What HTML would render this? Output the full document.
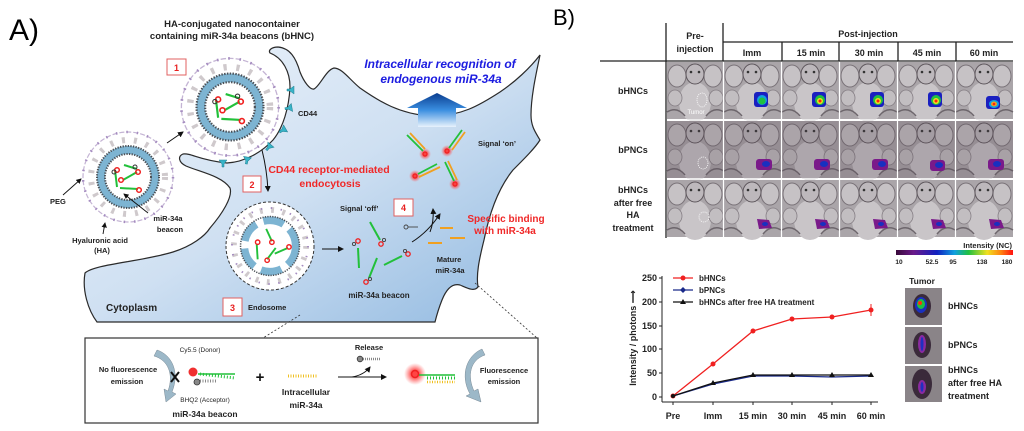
<!DOCTYPE html>
<html><head><meta charset="utf-8"><style>
html,body{margin:0;padding:0;background:#fff;}
svg{display:block;font-family:"Liberation Sans",Arial,sans-serif;}
.b{font-weight:bold;}
</style></head><body>
<svg width="1024" height="431" viewBox="0 0 1024 431" xmlns="http://www.w3.org/2000/svg">
<defs>
<linearGradient id="cell" x1="0" y1="0" x2="1" y2="1">
<stop offset="0" stop-color="#eef4fb"/><stop offset="0.5" stop-color="#cfe0f2"/><stop offset="1" stop-color="#8fb8e0"/>
</linearGradient>
<linearGradient id="barrow" x1="0" y1="0" x2="0" y2="1">
<stop offset="0" stop-color="#0a3d8f"/><stop offset="0.5" stop-color="#3a8ee0"/><stop offset="1" stop-color="#e8f2fc"/>
</linearGradient>
<radialGradient id="glow"><stop offset="0.3" stop-color="#ff3030" stop-opacity="0.9"/><stop offset="1" stop-color="#ff6060" stop-opacity="0"/></radialGradient>
<linearGradient id="cbar" x1="0" x2="1">
<stop offset="0" stop-color="#3a0a3a"/><stop offset="0.15" stop-color="#6a1a8a"/><stop offset="0.35" stop-color="#1020c0"/><stop offset="0.5" stop-color="#10a0e0"/><stop offset="0.62" stop-color="#20c040"/><stop offset="0.78" stop-color="#f0e020"/><stop offset="0.9" stop-color="#ff8010"/><stop offset="1" stop-color="#ff1010"/>
</linearGradient>
<marker id="ah" markerWidth="6" markerHeight="6" refX="5" refY="3" orient="auto"><path d="M0,0 L6,3 L0,6 z" fill="#111"/></marker>
<g id="ves">
<circle r="45" fill="none" stroke="#c4b4d4" stroke-width="1.2" stroke-dasharray="5 2"/>
<circle r="45" fill="none" stroke="#a58cc0" stroke-width="2.5" stroke-dasharray="1.5 9"/>
<circle r="37" fill="none" stroke="#cfc9cc" stroke-width="6" stroke-dasharray="3 9"/>
<circle r="27" fill="#fff" stroke="#7db4d2" stroke-width="8"/>
<circle r="31" fill="none" stroke="#4a4f55" stroke-width="2" stroke-dasharray="1.3 1.3"/>
<circle r="23" fill="none" stroke="#4a4f55" stroke-width="2" stroke-dasharray="1.3 1.3"/>
<line x1="-13" y1="-7" x2="-11" y2="10" stroke="#22c03a" stroke-width="2"/>
<line x1="-4" y1="-12" x2="9" y2="-8" stroke="#22c03a" stroke-width="2"/>
<line x1="-5" y1="3" x2="9" y2="-5" stroke="#22c03a" stroke-width="2"/>
<line x1="-8" y1="11" x2="10" y2="12" stroke="#22c03a" stroke-width="2"/>
<circle cx="-11" cy="-7" r="2.3" fill="none" stroke="#f02020" stroke-width="1.5"/>
<circle cx="10" cy="-5" r="2.3" fill="none" stroke="#f02020" stroke-width="1.5"/>
<circle cx="-7" cy="3" r="2.3" fill="none" stroke="#f02020" stroke-width="1.5"/>
<circle cx="11" cy="13" r="2.3" fill="none" stroke="#f02020" stroke-width="1.5"/>
<circle cx="7" cy="-10" r="2" fill="none" stroke="#333" stroke-width="1"/>
<circle cx="-14" cy="-5" r="2" fill="none" stroke="#333" stroke-width="1"/>
</g>
<g id="cd"><path d="M-4,-3 L4,-3 L1,1 L1,4 L-1,4 L-1,1 z" fill="#38b4c8" stroke="#1f7f90" stroke-width="0.5"/></g>
<g id="ms">
<rect width="57" height="57" fill="#aaa5a9"/>
<ellipse cx="28" cy="40" rx="16" ry="20" fill="#c9c5c8"/>
<ellipse cx="10" cy="14" rx="9" ry="11" fill="#c6c2c5" stroke="#7a7379" stroke-width="1"/>
<ellipse cx="46" cy="14" rx="9" ry="11" fill="#c6c2c5" stroke="#7a7379" stroke-width="1"/>
<ellipse cx="28" cy="12" rx="9" ry="10" fill="#bdb8bc" stroke="#5e575d" stroke-width="1"/>
<ellipse cx="8" cy="36" rx="7" ry="8" fill="#c2bec1" stroke="#857e84" stroke-width="0.8"/>
<ellipse cx="49" cy="36" rx="7" ry="8" fill="#c2bec1" stroke="#857e84" stroke-width="0.8"/>
<path d="M0,50 Q10,44 18,54 M57,50 Q47,44 39,54" stroke="#6d666c" stroke-width="1.5" fill="none"/>
<circle cx="24" cy="10" r="1.3" fill="#333"/><circle cx="32" cy="10" r="1.3" fill="#333"/>
</g>
<g id="ms2"><use href="#ms"/><rect width="57" height="57" fill="#5a4a58" opacity="0.25"/></g>
</defs>

<!-- Panel A -->
<text x="9" y="40" font-size="30">A)</text>
<text x="553" y="25" font-size="22">B)</text>
<text x="232" y="27" font-size="9.5" class="b" text-anchor="middle" fill="#222">HA-conjugated nanocontainer</text>
<text x="232" y="39" font-size="9.5" class="b" text-anchor="middle" fill="#222">containing miR-34a beacons (bHNC)</text>

<path d="M97,322 C88,310 82,290 85,273 C95,264 140,262 173,252 C192,246 205,236 210,228 C222,214 233,197 230,188 C222,176 200,172 186,166 C178,162 178,156 183,154 C192,153 198,160 227,163 C245,162 262,152 273,140 C283,128 289,108 290,87 C290,72 283,58 270,53 C268,50 272,47 278,47 C290,48 296,58 300,72 C304,82 310,90 314,89 C320,86 326,70 334,68 C342,68 350,80 360,88 C380,102 400,114 430,116 C460,117 480,105 500,92 C515,82 530,68 540,55 C537,70 531,95 531,115 C531,127 536,133 540,140 C535,148 525,158 513,170 C500,186 490,210 484,240 C479,260 476,275 478,287 C474,292 467,288 460,285 C452,283 446,290 442,300 C438,310 436,318 435,322 Z" fill="url(#cell)" stroke="#2a2a2a" stroke-width="1.2"/>

<path d="M407,108 L437,93 L467,108 L456,108 L456,127 L418,127 L418,108 Z" fill="url(#barrow)"/>
<text x="440" y="68" font-size="12" class="b" font-style="italic" fill="#1c1ce0" text-anchor="middle">Intracellular recognition of</text>
<text x="441" y="83" font-size="12" class="b" font-style="italic" fill="#1c1ce0" text-anchor="middle">endogenous miR-34a</text>

<use href="#ves" transform="translate(128,177)"/>
<use href="#ves" transform="translate(230,107) scale(1.08)"/>
<use href="#cd" transform="translate(291,90) rotate(90)"/>
<use href="#cd" transform="translate(289,108) rotate(80)"/>
<use href="#cd" transform="translate(283,130) rotate(60)"/>
<use href="#cd" transform="translate(269,147) rotate(40)"/>
<use href="#cd" transform="translate(247,160) rotate(10)"/>
<use href="#cd" transform="translate(223,163)"/>
<text x="298" y="116" font-size="7.5" class="b" fill="#222">CD44</text>

<circle cx="270" cy="246" r="44" fill="#fff" stroke="#333" stroke-width="1" stroke-dasharray="3 2"/>
<g transform="translate(270,246) scale(0.95)">
<circle r="38" fill="none" stroke="#cfc9cc" stroke-width="6" stroke-dasharray="3 9"/>
<circle r="40" fill="none" stroke="#a58cc0" stroke-width="2" stroke-dasharray="1.5 9"/>
<circle r="27" fill="none" stroke="#7db4d2" stroke-width="8" stroke-dasharray="22 8"/>
<circle r="31" fill="none" stroke="#4a4f55" stroke-width="1.6" stroke-dasharray="1.3 1.3"/>
<line x1="-4" y1="-18" x2="2" y2="-5" stroke="#22c03a" stroke-width="2"/>
<line x1="-14" y1="-2" x2="-13" y2="14" stroke="#22c03a" stroke-width="2"/>
<line x1="-3" y1="14" x2="6" y2="2" stroke="#22c03a" stroke-width="2"/>
<line x1="5" y1="8" x2="19" y2="2" stroke="#22c03a" stroke-width="2"/>
<circle cx="2" cy="-4" r="2.3" fill="none" stroke="#f02020" stroke-width="1.5"/>
<circle cx="-13" cy="-4" r="2.3" fill="none" stroke="#f02020" stroke-width="1.5"/>
<circle cx="-3" cy="15" r="2.3" fill="none" stroke="#f02020" stroke-width="1.5"/>
<circle cx="20" cy="1" r="2.3" fill="none" stroke="#f02020" stroke-width="1.5"/>
</g>

<text x="50" y="204" font-size="7.5" class="b" fill="#222">PEG</text>
<line x1="63" y1="195" x2="81" y2="179" stroke="#111" stroke-width="0.9" marker-end="url(#ah)"/>
<text x="168" y="221" font-size="7.5" class="b" fill="#222" text-anchor="middle">miR-34a</text>
<text x="170" y="232" font-size="7.5" class="b" fill="#222" text-anchor="middle">beacon</text>
<line x1="148" y1="213" x2="124" y2="194" stroke="#111" stroke-width="0.9" marker-end="url(#ah)"/>
<text x="100" y="243" font-size="7.5" class="b" fill="#222" text-anchor="middle">Hyaluronic acid</text>
<text x="102" y="253" font-size="7.5" class="b" fill="#222" text-anchor="middle">(HA)</text>
<line x1="103" y1="234" x2="105" y2="223" stroke="#111" stroke-width="0.9" marker-end="url(#ah)"/>

<line x1="167" y1="143" x2="183" y2="132" stroke="#111" stroke-width="1" marker-end="url(#ah)"/>
<path d="M262,150 Q267,170 268,191" fill="none" stroke="#111" stroke-width="1" marker-end="url(#ah)"/>
<line x1="322" y1="249" x2="343" y2="249" stroke="#111" stroke-width="1" marker-end="url(#ah)"/>
<path d="M412,242 Q428,232 440,214" fill="none" stroke="#111" stroke-width="1" marker-end="url(#ah)"/>
<path d="M430,232 Q434,222 433,209" fill="none" stroke="#111" stroke-width="1" marker-end="url(#ah)"/>

<g fill="#fff" stroke="#e06060" stroke-width="1">
<rect x="167" y="59" width="19" height="16"/><rect x="243" y="176" width="18" height="16"/>
<rect x="223" y="298" width="19" height="18"/><rect x="394" y="199" width="19" height="17"/>
</g>
<g fill="#e82020" font-size="9" class="b" text-anchor="middle">
<text x="176.5" y="71">1</text><text x="252" y="188">2</text><text x="232.5" y="311">3</text><text x="403.5" y="211">4</text>
</g>

<text x="329" y="173" font-size="10.5" class="b" fill="#f02828" text-anchor="middle">CD44 receptor-mediated</text>
<text x="330" y="187" font-size="10.5" class="b" fill="#f02828" text-anchor="middle">endocytosis</text>
<text x="340" y="211" font-size="7.5" class="b" fill="#222">Signal ‘off’</text>
<text x="478" y="146" font-size="7.5" class="b" fill="#222">Signal ‘on’</text>
<text x="506" y="222" font-size="10" class="b" fill="#f02828" text-anchor="middle">Specific binding</text>
<text x="505" y="234" font-size="10" class="b" fill="#f02828" text-anchor="middle">with miR-34a</text>
<text x="449" y="262" font-size="7.5" class="b" fill="#222" text-anchor="middle">Mature</text>
<text x="450" y="273" font-size="7.5" class="b" fill="#222" text-anchor="middle">miR-34a</text>
<text x="379" y="298" font-size="8" class="b" fill="#222" text-anchor="middle">miR-34a beacon</text>
<text x="106" y="311" font-size="10" class="b" fill="#222">Cytoplasm</text>
<text x="248" y="310" font-size="7.5" class="b" fill="#222">Endosome</text>

<g>
<circle cx="425" cy="154" r="6" fill="url(#glow)"/><circle cx="447" cy="151" r="6" fill="url(#glow)"/>
<circle cx="415" cy="176" r="6" fill="url(#glow)"/><circle cx="455" cy="184" r="6" fill="url(#glow)"/>
<line x1="423" y1="151" x2="407" y2="135" stroke="#22c03a" stroke-width="1.8"/><line x1="425" y1="149" x2="410" y2="133" stroke="#f0a020" stroke-width="1.8"/>
<line x1="449" y1="148" x2="462" y2="130" stroke="#22c03a" stroke-width="1.8"/><line x1="452" y1="150" x2="465" y2="132" stroke="#f0a020" stroke-width="1.8"/>
<line x1="418" y1="174" x2="437" y2="164" stroke="#22c03a" stroke-width="1.8"/><line x1="419" y1="177" x2="440" y2="167" stroke="#f0a020" stroke-width="1.8"/>
<line x1="454" y1="181" x2="445" y2="162" stroke="#22c03a" stroke-width="1.8"/><line x1="457" y1="180" x2="448" y2="161" stroke="#f0a020" stroke-width="1.8"/>
<g fill="none" stroke="#f02020" stroke-width="1.2">
<circle cx="425" cy="154" r="2"/><circle cx="447" cy="151" r="2"/><circle cx="415" cy="176" r="2"/><circle cx="455" cy="184" r="2"/></g>
</g>
<g stroke="#22c03a" stroke-width="2">
<line x1="358" y1="248" x2="359" y2="268"/><line x1="370" y1="222" x2="380" y2="240"/>
<line x1="377" y1="258" x2="369" y2="278"/><line x1="384" y1="265" x2="402" y2="256"/>
</g>
<g fill="none" stroke="#f02020" stroke-width="1.3">
<circle cx="358" cy="241" r="2.2"/><circle cx="381" cy="244" r="2.2"/><circle cx="366" cy="282" r="2.2"/><circle cx="408" cy="254" r="2.2"/>
</g>
<g fill="none" stroke="#444" stroke-width="0.9">
<circle cx="354" cy="244" r="1.6"/><circle cx="384" cy="240" r="1.6"/><circle cx="370" cy="279" r="1.6"/><circle cx="405" cy="251" r="1.6"/>
<circle cx="406" cy="227" r="2"/><line x1="408" y1="227" x2="418" y2="227"/>
</g>
<g stroke="#f0a020" stroke-width="2">
<line x1="440" y1="228" x2="453" y2="228"/><line x1="450" y1="238" x2="465" y2="238"/><line x1="428" y1="243" x2="442" y2="243"/>
</g>

<line x1="300" y1="315" x2="263" y2="338" stroke="#333" stroke-width="0.8" stroke-dasharray="2 2"/>
<line x1="475" y1="283" x2="537" y2="338" stroke="#333" stroke-width="0.8" stroke-dasharray="2 2"/>

<rect x="85" y="338" width="453" height="85" fill="#fff" stroke="#333" stroke-width="1.2"/>
<text x="128" y="372" font-size="7.5" class="b" fill="#222" text-anchor="middle">No fluorescence</text>
<text x="127" y="384" font-size="7.5" class="b" fill="#222" text-anchor="middle">emission</text>
<path d="M157,350 C172,355 180,372 172,392 L176,394 L166,402 L164,389 L168,391 C174,374 168,360 154,356 Z" fill="#9cb8c8" stroke="#7a8a96" stroke-width="0.5"/>
<path d="M171,372 L179,382 M179,372 L171,382" stroke="#111" stroke-width="2"/>
<text x="200" y="352" font-size="6.5" fill="#222" text-anchor="middle">Cy5.5 (Donor)</text>
<text x="205" y="402" font-size="6.5" fill="#222" text-anchor="middle">BHQ2 (Acceptor)</text>
<text x="205" y="417" font-size="8.5" class="b" fill="#222" text-anchor="middle">miR-34a beacon</text>
<circle cx="193" cy="372" r="4.5" fill="#f03030"/>
<circle cx="197" cy="382" r="3" fill="#888" stroke="#333" stroke-width="0.8"/>
<line x1="198" y1="374" x2="235" y2="374" stroke="#22c03a" stroke-width="1.5"/>
<line x1="200" y1="374" x2="235" y2="378" stroke="#22c03a" stroke-width="3" stroke-dasharray="1 2"/>
<line x1="200" y1="381" x2="216" y2="381" stroke="#888" stroke-width="3" stroke-dasharray="1 1.5"/>
<text x="260" y="382" font-size="15" class="b" fill="#111" text-anchor="middle">+</text>
<line x1="288" y1="376" x2="317" y2="376" stroke="#f0c020" stroke-width="3" stroke-dasharray="1 1.5"/>
<text x="306" y="395" font-size="8.5" class="b" fill="#222" text-anchor="middle">Intracellular</text>
<text x="306" y="408" font-size="8.5" class="b" fill="#222" text-anchor="middle">miR-34a</text>
<text x="369" y="350" font-size="7.5" class="b" fill="#222" text-anchor="middle">Release</text>
<circle cx="360" cy="359" r="2.8" fill="#888" stroke="#333" stroke-width="0.8"/>
<line x1="363" y1="359" x2="380" y2="359" stroke="#888" stroke-width="2.5" stroke-dasharray="1 1"/>
<line x1="338" y1="377" x2="386" y2="377" stroke="#111" stroke-width="1" marker-end="url(#ah)"/>
<path d="M352,377 Q364,375 370,367" fill="none" stroke="#111" stroke-width="1" marker-end="url(#ah)"/>
<circle cx="415" cy="374" r="11" fill="url(#glow)"/>
<circle cx="415" cy="374" r="3.5" fill="none" stroke="#f02020" stroke-width="1.5"/>
<line x1="419" y1="375" x2="455" y2="375" stroke="#22c03a" stroke-width="1.5"/>
<line x1="427" y1="378" x2="455" y2="378" stroke="#22c03a" stroke-width="3" stroke-dasharray="1 2"/>
<line x1="427" y1="382" x2="455" y2="382" stroke="#f0c020" stroke-width="2.5" stroke-dasharray="1 1.5"/>
<path d="M482,349 C466,356 460,376 470,394 L466,396 L481,402 L478,389 L474,391 C467,376 470,360 485,355 Z" fill="#9cb8c8" stroke="#7a8a96" stroke-width="0.5"/>
<text x="504" y="373" font-size="7.5" class="b" fill="#222" text-anchor="middle">Fluorescence</text>
<text x="504" y="384" font-size="7.5" class="b" fill="#222" text-anchor="middle">emission</text>

<g>
<use href="#ms" x="667" y="62"/><use href="#ms" x="724" y="62"/><use href="#ms" x="782" y="62"/><use href="#ms" x="840" y="62"/><use href="#ms" x="898" y="62"/><use href="#ms" x="956" y="62"/>
<use href="#ms2" x="667" y="121"/><use href="#ms2" x="724" y="121"/><use href="#ms2" x="782" y="121"/><use href="#ms2" x="840" y="121"/><use href="#ms2" x="898" y="121"/><use href="#ms2" x="956" y="121"/>
<use href="#ms" x="667" y="180"/><use href="#ms" x="724" y="180"/><use href="#ms" x="782" y="180"/><use href="#ms" x="840" y="180"/><use href="#ms" x="898" y="180"/><use href="#ms" x="956" y="180"/>
</g>
<g stroke="#fff" stroke-width="1.2">
<line x1="667" y1="120" x2="1013" y2="120"/><line x1="667" y1="179" x2="1013" y2="179"/>
<line x1="723.5" y1="62" x2="723.5" y2="238"/><line x1="781.5" y1="62" x2="781.5" y2="238"/><line x1="839.5" y1="62" x2="839.5" y2="238"/><line x1="897.5" y1="62" x2="897.5" y2="238"/><line x1="955.5" y1="62" x2="955.5" y2="238"/>
</g>
<ellipse cx="702" cy="100" rx="5" ry="7" fill="none" stroke="#fff" stroke-width="0.8" stroke-dasharray="1 1"/>
<text x="696" y="114" font-size="6" fill="#fff" text-anchor="middle">Tumor</text>
<ellipse cx="703" cy="163" rx="5" ry="6" fill="none" stroke="#fff" stroke-width="0.8" stroke-dasharray="1 1"/>
<ellipse cx="704" cy="217" rx="5" ry="5" fill="none" stroke="#fff" stroke-width="0.8" stroke-dasharray="1 1"/>
<g>
<g transform="translate(754,92)"><rect width="14" height="15" rx="3" fill="#1a20c0"/><ellipse cx="8" cy="8" rx="5" ry="5" fill="#10a0e0"/><ellipse cx="8" cy="9" rx="3.5" ry="3.5" fill="#20c040"/></g>
<g transform="translate(812,92)"><rect width="14" height="15" rx="3" fill="#1a20c0"/><ellipse cx="8" cy="8" rx="5" ry="5" fill="#20c040"/><ellipse cx="8" cy="9" rx="3" ry="3" fill="#f0e020"/><circle cx="8" cy="9" r="1.5" fill="#ff2010"/></g>
<g transform="translate(870,92)"><rect width="14" height="15" rx="3" fill="#1a20c0"/><ellipse cx="8" cy="8" rx="5" ry="5" fill="#20c040"/><ellipse cx="8" cy="9" rx="3" ry="3" fill="#f0e020"/><circle cx="8" cy="9" r="1.5" fill="#ff2010"/></g>
<g transform="translate(928,92)"><rect width="14" height="15" rx="3" fill="#1a20c0"/><ellipse cx="8" cy="8" rx="5" ry="5" fill="#20c040"/><ellipse cx="8" cy="9" rx="3" ry="3" fill="#f0e020"/><circle cx="8" cy="9" r="1.5" fill="#ff2010"/></g>
<g transform="translate(986,96)"><rect width="14" height="13" rx="3" fill="#1a20c0"/><ellipse cx="8" cy="8" rx="5" ry="4" fill="#10a0e0"/><ellipse cx="8" cy="8" rx="3" ry="2.5" fill="#f0a020"/><circle cx="8" cy="8" r="1.3" fill="#ff2010"/></g>
</g>
<g fill="#7a1a8a">
<rect x="756" y="159" width="16" height="11" rx="3"/><rect x="814" y="159" width="16" height="11" rx="3"/><rect x="872" y="159" width="16" height="11" rx="3"/><rect x="930" y="160" width="15" height="11" rx="3"/><rect x="988" y="159" width="16" height="11" rx="3"/>
<path d="M757,219 l12,1 l3,8 l-13,1 z"/><path d="M815,219 l12,1 l3,8 l-13,1 z"/><path d="M873,219 l12,1 l3,8 l-13,1 z"/><path d="M931,219 l12,1 l3,8 l-13,1 z"/><path d="M989,219 l12,1 l3,8 l-13,1 z"/>
</g>
<g fill="#1830c0">
<ellipse cx="766" cy="164" rx="4" ry="3"/><ellipse cx="824" cy="164" rx="4" ry="3"/><ellipse cx="882" cy="164" rx="4" ry="3"/><ellipse cx="939" cy="165" rx="4" ry="3"/><ellipse cx="997" cy="164" rx="4" ry="3"/>
<ellipse cx="765" cy="224" rx="3" ry="2"/><ellipse cx="823" cy="224" rx="3" ry="2"/><ellipse cx="881" cy="224" rx="3" ry="2"/><ellipse cx="939" cy="224" rx="3" ry="2"/><ellipse cx="997" cy="224" rx="3" ry="2"/>
</g>
<g stroke="#222" stroke-width="1.3">
<line x1="600" y1="61" x2="1013" y2="61"/><line x1="723" y1="42" x2="1013" y2="42"/>
<line x1="666" y1="23" x2="666" y2="238"/><line x1="723" y1="23" x2="723" y2="61"/>
<line x1="782" y1="42" x2="782" y2="61"/><line x1="839" y1="42" x2="839" y2="61"/><line x1="898" y1="42" x2="898" y2="61"/><line x1="956" y1="42" x2="956" y2="61"/>
</g>
<g font-size="9" class="b" fill="#222" text-anchor="middle">
<text x="695" y="39">Pre-</text><text x="695" y="52">injection</text>
<text x="868" y="37">Post-injection</text>
<text x="752" y="56">Imm</text><text x="811" y="56">15 min</text><text x="869" y="56">30 min</text><text x="927" y="56">45 min</text><text x="984" y="56">60 min</text>
<text x="633" y="94">bHNCs</text><text x="633" y="153">bPNCs</text>
<text x="633" y="193">bHNCs</text><text x="633" y="206">after free</text><text x="633" y="218">HA</text><text x="633" y="231">treatment</text>
</g>
<text x="1012" y="248" font-size="7.5" class="b" fill="#222" text-anchor="end">Intensity (NC)</text>
<rect x="896" y="250" width="117" height="5" fill="url(#cbar)"/>
<g font-size="6.5" class="b" fill="#222" text-anchor="middle">
<text x="899" y="264">10</text><text x="932" y="264">52.5</text><text x="953" y="264">95</text><text x="982" y="264">138</text><text x="1007" y="264">180</text>
</g>

<g stroke="#222" stroke-width="1">
<line x1="662" y1="276" x2="662" y2="402"/><line x1="662" y1="402" x2="878" y2="402"/>
<line x1="659" y1="278" x2="662" y2="278"/><line x1="659" y1="302" x2="662" y2="302"/><line x1="659" y1="326" x2="662" y2="326"/><line x1="659" y1="349" x2="662" y2="349"/><line x1="659" y1="373" x2="662" y2="373"/><line x1="659" y1="397" x2="662" y2="397"/>
<line x1="673" y1="402" x2="673" y2="405"/><line x1="713" y1="402" x2="713" y2="405"/><line x1="753" y1="402" x2="753" y2="405"/><line x1="792" y1="402" x2="792" y2="405"/><line x1="832" y1="402" x2="832" y2="405"/><line x1="871" y1="402" x2="871" y2="405"/>
</g>
<g font-size="9" class="b" fill="#222" text-anchor="end">
<text x="657" y="281">250</text><text x="657" y="305">200</text><text x="657" y="329">150</text><text x="657" y="352">100</text><text x="657" y="376">50</text><text x="657" y="400">0</text>
</g>
<g font-size="9" class="b" fill="#222" text-anchor="middle">
<text x="673" y="419">Pre</text><text x="713" y="419">Imm</text><text x="753" y="419">15 min</text><text x="792" y="419">30 min</text><text x="832" y="419">45 min</text><text x="871" y="419">60 min</text>
</g>
<text transform="translate(636,338) rotate(-90)" font-size="9" class="b" fill="#222" text-anchor="middle">Intensity / photons ⟶</text>
<polyline points="673,396 713,364 753,331 792,319 832,317 871,310" fill="none" stroke="#f02020" stroke-width="1.3"/>
<line x1="871" y1="304" x2="871" y2="316" stroke="#f02020"/>
<g fill="#f02020"><circle cx="673" cy="396" r="2.5"/><circle cx="713" cy="364" r="2.5"/><circle cx="753" cy="331" r="2.5"/><circle cx="792" cy="319" r="2.5"/><circle cx="832" cy="317" r="2.5"/><circle cx="871" cy="310" r="2.5"/></g>
<polyline points="673,396 713,384 753,376 792,376 832,377 871,376" fill="none" stroke="#1a2a8a" stroke-width="1.3"/>
<polyline points="673,396 713,383 753,375 792,375 832,375 871,375" fill="none" stroke="#111" stroke-width="1.2"/>
<g fill="#111"><path d="M713,380 l3,5 l-6,0z"/><path d="M753,372 l3,5 l-6,0z"/><path d="M792,372 l3,5 l-6,0z"/><path d="M832,372 l3,5 l-6,0z"/><path d="M871,372 l3,5 l-6,0z"/><circle cx="673" cy="396" r="2"/></g>
<line x1="673" y1="278" x2="693" y2="278" stroke="#f02020" stroke-width="1.3"/><circle cx="683" cy="278" r="2.5" fill="#f02020"/>
<line x1="673" y1="290" x2="693" y2="290" stroke="#1a2a8a" stroke-width="1.3"/><path d="M683,287 l3,3 l-3,3 l-3,-3z" fill="#1a2a8a"/>
<line x1="673" y1="302" x2="693" y2="302" stroke="#111" stroke-width="1.3"/><path d="M683,299 l3,5 l-6,0z" fill="#111"/>
<g font-size="8" class="b" fill="#222">
<text x="699" y="281">bHNCs</text><text x="699" y="293">bPNCs</text><text x="699" y="305">bHNCs after free HA treatment</text>
</g>
<text x="922" y="284" font-size="8.5" class="b" fill="#222" text-anchor="middle">Tumor</text>
<rect x="905" y="288" width="37" height="37" fill="#8a8488"/>
<ellipse cx="922" cy="306" rx="9" ry="12" fill="#3a2a3a"/><ellipse cx="921" cy="305" rx="6" ry="8" fill="#1a30c0"/><ellipse cx="921" cy="304" rx="4" ry="5" fill="#20c040"/><circle cx="920" cy="303" r="2" fill="#ff3010"/>
<rect x="905" y="327" width="37" height="37" fill="#8a8488"/>
<ellipse cx="922" cy="345" rx="9" ry="13" fill="#3a2a3a"/><ellipse cx="922" cy="344" rx="4" ry="9" fill="#8a2aa0"/><ellipse cx="922" cy="344" rx="1.5" ry="7" fill="#2030c0"/>
<rect x="905" y="366" width="37" height="36" fill="#8a8488"/>
<ellipse cx="922" cy="384" rx="10" ry="15" fill="#3a2a3a"/><ellipse cx="922" cy="387" rx="4" ry="7" fill="#8a2aa0"/><ellipse cx="922" cy="387" rx="1.5" ry="5" fill="#2030c0"/>
<g font-size="9" class="b" fill="#222">
<text x="948" y="309">bHNCs</text><text x="948" y="348">bPNCs</text>
<text x="948" y="373">bHNCs</text><text x="948" y="386">after free HA</text><text x="948" y="399">treatment</text>
</g>
</svg>
</body></html>
